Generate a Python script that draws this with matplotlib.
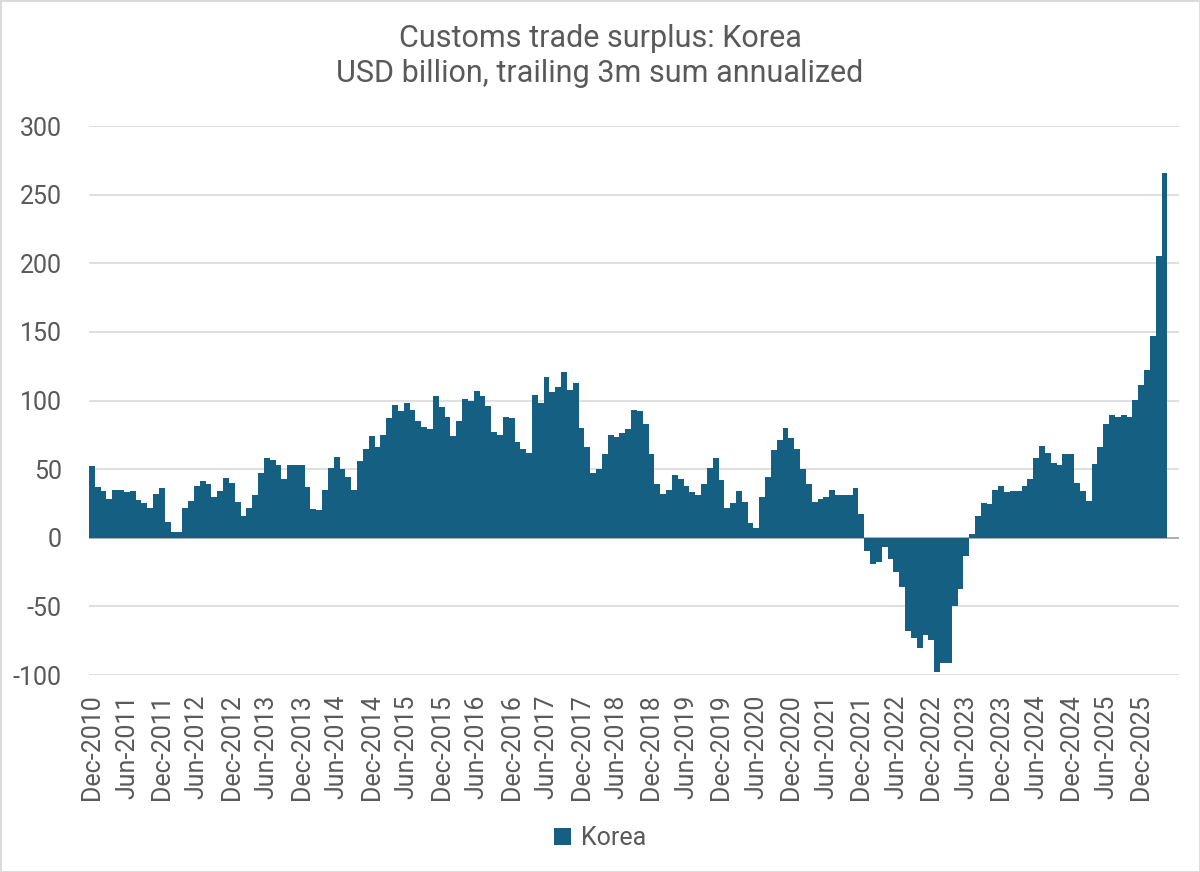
import numpy as np
import pandas as pd
import matplotlib
matplotlib.use("Agg")
import matplotlib.pyplot as plt
from matplotlib.patches import Patch, Rectangle

plt.rcParams['font.family'] = ['Roboto', 'DejaVu Sans']

# monthly, Dec-2010 .. Apr-2026 (USD bn, trailing 3m sum annualized)
start_month = "2010-12-01"
korea = [
    52, 37, 34, 28, 35, 35, 33, 34, 27.5, 25, 22, 32, 36.5, 11.4, 4, 4,
    22, 27, 38, 41, 39, 30, 34, 43.5, 40, 26, 16, 22, 31, 47, 58, 57,
    53, 43, 53, 53, 53, 37, 21, 20, 35, 51, 59, 50, 44, 35, 56,
    64.5, 74, 66, 75, 87, 97, 92, 98, 93, 85, 81, 79, 103, 95, 88, 74,
    85, 101, 100, 107, 103, 96, 77, 75, 88, 87, 70, 65, 62, 104, 98.5,
    117, 106, 110, 121, 108, 113, 80, 66, 47, 50, 61, 75, 73.5,
    76, 79, 93, 92, 83, 61, 39, 32, 35, 46, 43, 38, 33, 31, 39, 51,
    58, 42, 22, 25, 34, 26, 11, 7, 30, 44, 64, 71, 80, 73, 64.5, 50,
    39, 26, 28, 30, 35, 31, 31, 31, 36, 17,
    -10, -19, -18, -7, -15.5, -25, -36, -68, -73, -80, -71, -74.5,
    -98, -91.5, -91.5, -50, -37.5, -13.5,
    3, 15.5, 25, 24.5, 35, 38, 33.5, 34, 34, 38, 42.5, 58, 67, 62,
    54.5, 53, 61, 61, 40, 34, 26.5, 54, 66, 83, 89.5, 88, 89.5, 88,
    100.5, 111, 122, 147, 205, 266,
]
n_slots = 187  # category axis runs two empty months past the last bar
yticks = [-100, -50, 0, 50, 100, 150, 200, 250, 300]

months = pd.date_range(start_month, periods=len(korea), freq="MS")
tick_pos = np.arange(0, len(korea), 6)
tick_lab = [months[i].strftime("%b-%Y") for i in tick_pos]

bar_col = "#156082"
txt_col = "#595959"

fig = plt.figure(figsize=(12, 8.72), dpi=100)
ax = fig.add_axes([89/1200, 1-675/872, 1090/1200, (675-126)/872])

x = np.arange(len(korea))
ax.bar(x, korea, width=1.0, color=bar_col, linewidth=0, zorder=3)
ax.axhline(0, color="#A6A6A6", lw=1.2, zorder=2)

ax.set_xlim(-0.5, n_slots - 0.5)
ax.set_ylim(-100, 300)
ax.set_yticks(yticks)
ax.set_yticklabels([str(v) for v in yticks])
ax.set_xticks(tick_pos)
ax.set_xticklabels(tick_lab, rotation=90, va="top", ha="center")
ax.tick_params(axis="both", length=0, labelsize=18, labelcolor=txt_col)
ax.tick_params(axis="y", pad=19.5)
ax.tick_params(axis="x", pad=14)
ax.grid(axis="y", color="#D9D9D9", lw=1.2, zorder=0)
for s in ax.spines.values():
    s.set_visible(False)

fig.text(0.5, 1-56/872, "Customs trade surplus: Korea\nUSD billion, trailing 3m sum annualized",
         ha="center", va="center", fontsize=22, color=txt_col, linespacing=1.25)

fig.legend(handles=[Patch(facecolor=bar_col, label="Korea")], loc="center",
           bbox_to_anchor=(0.5, 1-838/872), frameon=False, fontsize=18,
           handlelength=0.7, handleheight=0.7, handletextpad=0.4, labelcolor=txt_col)

fig.patches.append(Rectangle((0, 0), 1, 1, transform=fig.transFigure, fill=False,
                             edgecolor="#D9D9D9", lw=2))

fig.savefig("out.png", dpi=100)
